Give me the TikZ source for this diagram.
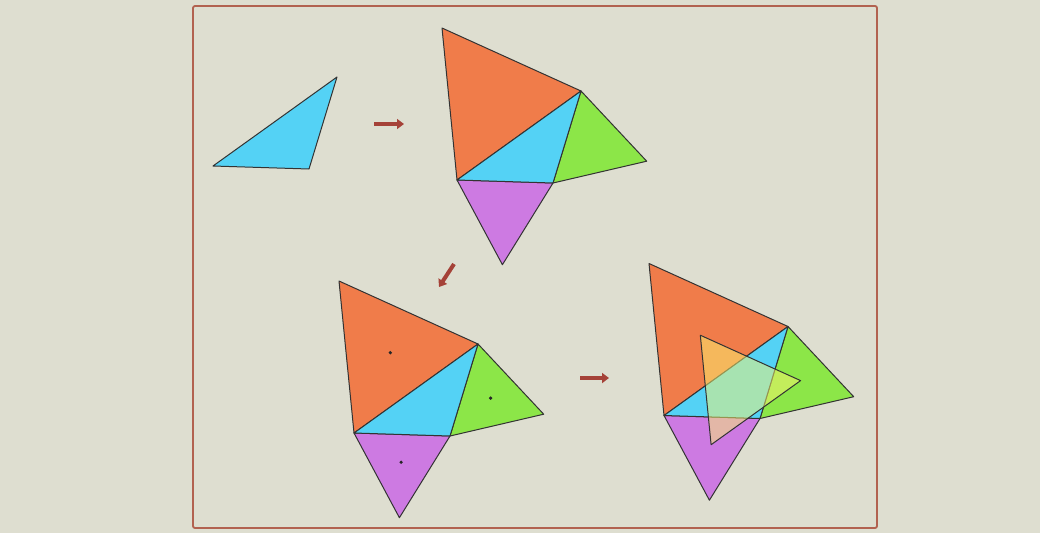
\documentclass[tikz,border=0pt]{standalone}
\usetikzlibrary{arrows.meta}
\definecolor{bgc}{RGB}{222,222,208}
\definecolor{framec}{RGB}{178,98,80}
\definecolor{orangec}{RGB}{240,124,74}
\definecolor{bluec}{RGB}{84,210,245}
\definecolor{greenc}{RGB}{140,230,72}
\definecolor{purplec}{RGB}{205,122,226}
\definecolor{napc}{RGB}{250,245,110}
\definecolor{arrc}{RGB}{165,66,56}
\newcommand\defpts[1]{%
  \coordinate (P#1) at (213,166);
  \coordinate (Q#1) at (337,77);
  \coordinate (R#1) at (309,169);
  \coordinate (O#1) at (198,14);
  \coordinate (G#1) at (402.7,147.2);
  \coordinate (U#1) at (258.4,250.7);
  \coordinate (co#1) at (249.3,85.7);
  \coordinate (cg#1) at (349.6,131.1);
  \coordinate (cu#1) at (260.1,195.2);
}
\newcommand\drawfour[1]{%
  \filldraw[tri,fill=orangec] (O#1) -- (Q#1) -- (P#1) -- cycle;
  \filldraw[tri,fill=greenc] (Q#1) -- (G#1) -- (R#1) -- cycle;
  \filldraw[tri,fill=purplec] (P#1) -- (R#1) -- (U#1) -- cycle;
  \filldraw[tri,fill=bluec] (P#1) -- (Q#1) -- (R#1) -- cycle;
}
\begin{document}
\begin{tikzpicture}[x=1pt,y=-1pt,
  tri/.style={draw=black!80,line width=1pt,line join=round},
  arr/.style={draw=arrc,line width=4pt,-{Triangle[length=7pt,width=10pt]}},
  dotc/.style={fill=black!85}]
\useasboundingbox (0,0) rectangle (1040,533);
\fill[bgc] (0,0) rectangle (1040,533);
\draw[framec,line width=1.8pt,rounded corners=2pt] (193,6) rectangle (877,528);
% figure 1
\begin{scope}
  \defpts{a}
  \filldraw[tri,fill=bluec] (Pa) -- (Qa) -- (Ra) -- cycle;
\end{scope}
% figure 2
\begin{scope}[shift={(244,14)}]
  \defpts{b}
  \drawfour{b}
\end{scope}
% figure 3
\begin{scope}[shift={(141,267)}]
  \defpts{c}
  \drawfour{c}
  \fill[dotc] (coc) circle (1.8pt);
  \fill[dotc] (cgc) circle (1.8pt);
  \fill[dotc] (cuc) circle (1.8pt);
\end{scope}
% figure 4
\begin{scope}[shift={(451,249.5)}]
  \defpts{d}
  \drawfour{d}
  \filldraw[tri,fill=napc,fill opacity=0.5] (cod) -- (cgd) -- (cud) -- cycle;
\end{scope}
% arrows
\coordinate (a1s) at (374,124);
\coordinate (a1e) at (404,124);
\coordinate (a2s) at (454,264);
\coordinate (a2e) at (439,287);
\coordinate (a3s) at (580,378);
\coordinate (a3e) at (609,378);
\draw[arr] (a1s) -- (a1e);
\draw[arr] (a2s) -- (a2e);
\draw[arr] (a3s) -- (a3e);
\end{tikzpicture}
\end{document}
